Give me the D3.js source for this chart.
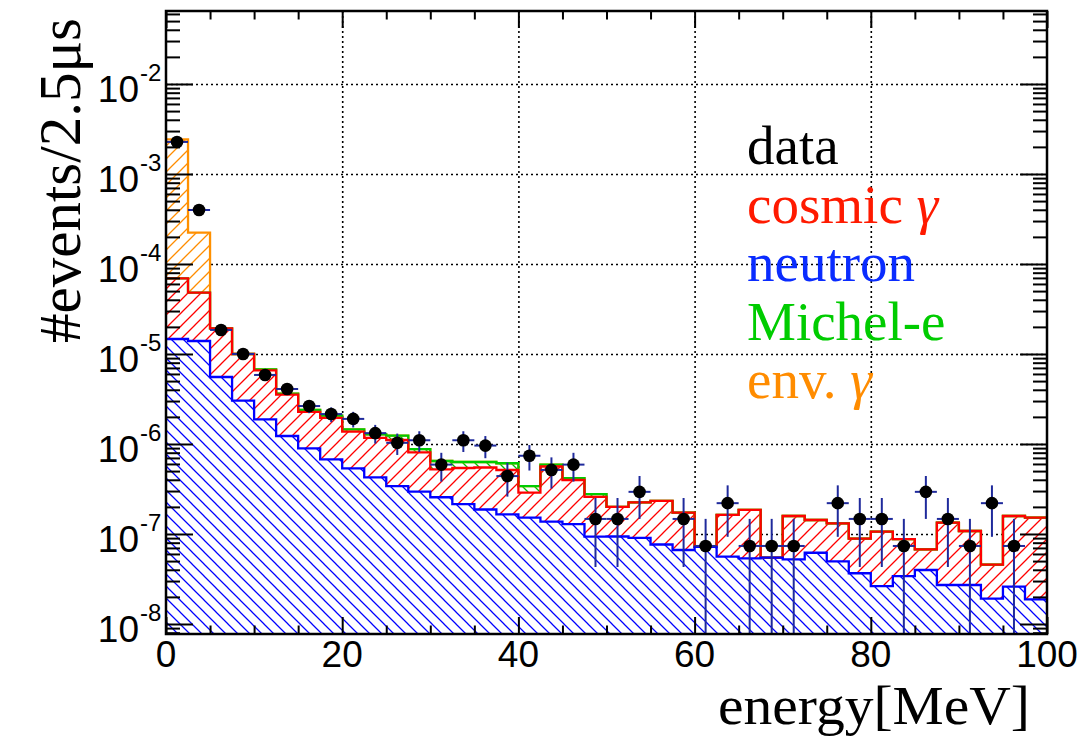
<!DOCTYPE html>
<html><head><meta charset="utf-8">
<script src="https://cdn.jsdelivr.net/npm/d3@7"></script>
<style>body{margin:0;background:#fff}svg{display:block}</style>
</head><body>
<svg id="c" width="1084" height="737"></svg>
<script>
// ---- data (events / 2.5 us per 2.5 MeV bin) ----
const binLow = [0,2.5,5,7.5,10,12.5,15,17.5,20,22.5,25,27.5,30,32.5,35,37.5,40,42.5,45,47.5,
                50,52.5,55,57.5,60,62.5,65,67.5,70,72.5,75,77.5,80,82.5,85,87.5,90,92.5,95,97.5];
const binWidth = 2.5;
const neutron = [1.468e-5,1.394e-5,5.55e-6,3.03e-6,1.88e-6,1.227e-6,8.95e-7,6.76e-7,5.37e-7,4.25e-7,
  3.41e-7,2.96e-7,2.56e-7,2.15e-7,1.87e-7,1.65e-7,1.52e-7,1.37e-7,1.29e-7,9.33e-8,
  9.38e-8,9.03e-8,7.64e-8,6.64e-8,7.18e-8,5.60e-8,5.35e-8,5.45e-8,5.21e-8,6.19e-8,
  4.97e-8,3.66e-8,2.64e-8,3.41e-8,3.98e-8,2.71e-8,2.71e-8,1.91e-8,2.60e-8,1.88e-8];
const cosmicGamma = [5.46e-5,3.41e-5,1.375e-5,6.97e-6,4.68e-6,2.30e-6,1.375e-6,1.274e-6,8.33e-7,7.42e-7,
  7.66e-7,5.09e-7,2.65e-7,3.26e-7,3.61e-7,3.49e-7,1.36e-7,4.25e-7,2.69e-7,1.647e-7,
  1.062e-7,1.337e-7,1.566e-7,1.066e-7,0,1.07e-7,1.315e-7,0,1.064e-7,8.11e-8,
  8.13e-8,5.21e-8,7.96e-8,5.38e-8,2.75e-8,1.069e-7,8.09e-8,2.65e-8,1.325e-7,1.332e-7];
const michelE = [0,0,0,0,2.0e-7,1.0e-7,1.2e-7,1.2e-7,8e-8,1.09e-7,
  1.33e-7,7.4e-8,1.26e-7,9.0e-8,8.3e-8,9.7e-8,5.3e-8,2.7e-8,1.8e-8,1.9e-8,
  0,0,0,0,0,0,0,0,0,0, 0,0,0,0,0,0,0,0,0,0];
const envGamma = [2.36e-3,1.75e-4,0,0,0,0,0,0,0,0, 0,0,0,0,0,0,0,0,0,0,
  0,0,0,0,0,0,0,0,0,0, 0,0,0,0,0,0,0,0,0,0];
const dataVal = [2.27e-3,3.98e-4,1.85e-5,1.0e-5,5.85e-6,4.08e-6,2.64e-6,2.15e-6,1.9e-6,1.32e-6,
  1.03e-6,1.10e-6,5.9e-7,1.10e-6,9.6e-7,4.4e-7,7.4e-7,5.15e-7,5.9e-7,1.47e-7,
  1.47e-7,2.94e-7,null,1.47e-7,7.36e-8,2.2e-7,7.36e-8,7.36e-8,7.36e-8,null,
  2.2e-7,1.47e-7,1.47e-7,7.36e-8,2.94e-7,1.47e-7,7.36e-8,2.2e-7,7.36e-8,null];
const dataErr = [1.29e-5,5.4e-6,1.17e-6,8.6e-7,6.6e-7,5.5e-7,4.4e-7,4.0e-7,3.75e-7,3.1e-7,
  2.75e-7,2.85e-7,2.08e-7,2.85e-7,2.65e-7,1.8e-7,2.33e-7,1.95e-7,2.08e-7,1.04e-7,
  1.04e-7,1.47e-7,null,1.04e-7,7.36e-8,1.27e-7,7.36e-8,7.36e-8,7.36e-8,null,
  1.27e-7,1.04e-7,1.04e-7,7.36e-8,1.47e-7,1.04e-7,7.36e-8,1.27e-7,7.36e-8,null];
const xMajor = [0,20,40,60,80,100];
const xMinor = [5,10,15,25,30,35,45,50,55,65,70,75,85,90,95];
const legendItems = [
  {label:"data", sym:"", color:"#000000"},
  {label:"cosmic ", sym:"γ", color:"#ff1a00"},
  {label:"neutron", sym:"", color:"#0a2cff"},
  {label:"Michel-e", sym:"", color:"#00cc00"},
  {label:"env. ", sym:"γ", color:"#ff8c00"}
];

// ---- scales ----
const L=166, R=1047, T=11, B=634;
const x = d3.scaleLinear().domain([0,100]).range([L,R]);
const yMin = 7.74e-9, yMax = 6.47e-2;
const y = d3.scaleLog().domain([yMin,yMax]).range([B,T]);
const yy = v => y(Math.max(v, yMin));

const svg = d3.select('#c');
const defs = svg.append('defs');
defs.append('clipPath').attr('id','clip').append('rect')
  .attr('x',L).attr('y',T).attr('width',R-L).attr('height',B-T);

function hatch(id,color,dir,s,w){
  const p=defs.append('pattern').attr('id',id).attr('patternUnits','userSpaceOnUse')
    .attr('width',s).attr('height',s);
  const d = dir==='/'
    ? `M0,${s}L${s},0M-1,1L1,-1M${s-1},${s+1}L${s+1},${s-1}`
    : `M0,0L${s},${s}M-1,${s-1}L1,${s+1}M${s-1},-1L${s+1},1`;
  p.append('path').attr('d',d).attr('stroke',color).attr('stroke-width',w).attr('fill','none');
}
hatch('hEnv','#ff8c00','/',13,1.3);
hatch('hMichel','#00c000','\\',12,1.3);
hatch('hCosmic','#ff0000','/',13,1.3);
hatch('hNeutron','#0000ff','\\',12,1.25);

const plot = svg.append('g').attr('clip-path','url(#clip)');

// ---- grid ----
const decades = y.ticks().filter(v => Math.abs(Math.log10(v)-Math.round(Math.log10(v)))<1e-9);
const minors = y.ticks().filter(v => !decades.includes(v));
const gridStyle = g => { g.select('.domain').remove();
  g.selectAll('line').attr('stroke','#000').attr('stroke-width',1.6).attr('stroke-dasharray','2,3');
  g.selectAll('text').remove(); };
plot.append('g').attr('transform',`translate(${L},0)`)
  .call(d3.axisRight(y).tickValues(decades).tickSize(R-L)).call(gridStyle);
plot.append('g').attr('transform',`translate(0,${T})`)
  .call(d3.axisBottom(x).tickValues([20,40,60,80]).tickSize(B-T)).call(gridStyle);

// ---- stacked histograms ----
const rows = binLow.map((e,i)=>({lo:e, neutron:neutron[i], cosmic:cosmicGamma[i], michel:michelE[i], env:envGamma[i]}));
const keys = ['neutron','cosmic','michel','env'];
const stacked = d3.stack().keys(keys)(rows);
const pts = s => s.flatMap(d => [[d.data.lo, d[0], d[1]], [d.data.lo+binWidth, d[0], d[1]]]);
const area = d3.area().x(p=>x(p[0])).y0(p=>yy(p[1])).y1(p=>yy(p[2]));
const baseArea = d3.area().x(p=>x(p[0])).y0(B+5).y1(p=>yy(p[2]));
const line = d3.line().x(p=>x(p[0])).y(p=>yy(p[2]));

const fills = {neutron:'url(#hNeutron)', cosmic:'url(#hCosmic)', michel:'url(#hMichel)', env:'url(#hEnv)'};
const strokes = {neutron:'#0000ff', cosmic:'#ff0000', michel:'#00cc00', env:'#ff9000'};

// white under the total so grid is hidden
plot.append('path').attr('d', baseArea(pts(stacked[3]))).attr('fill','#fff');
stacked.forEach(s => {
  plot.append('path').attr('d', area(pts(s))).attr('fill', fills[s.key]);
});
[...stacked].reverse().forEach(s => {
  plot.append('path').attr('d', line(pts(s))).attr('fill','none')
    .attr('stroke', strokes[s.key]).attr('stroke-width',2.3);
});

// ---- data points ----
const errColor = '#1f2a9c';
const dg = plot.append('g');
binLow.forEach((e,i)=>{
  const v = dataVal[i]; if (v==null) return;
  const er = dataErr[i];
  const cx = x(e+binWidth/2), cy = y(v);
  const hi = yy(v+er), lo = (v-er) > yMin ? y(v-er) : B+5;
  dg.append('line').attr('x1',cx).attr('x2',cx).attr('y1',hi).attr('y2',lo)
    .attr('stroke',errColor).attr('stroke-width',2);
  dg.append('line').attr('x1',x(e)).attr('x2',x(e+binWidth)).attr('y1',cy).attr('y2',cy)
    .attr('stroke',errColor).attr('stroke-width',2);
  dg.append('circle').attr('cx',cx).attr('cy',cy).attr('r',6.3).attr('fill','#000');
});

// ---- frame and ticks ----
const tickStyle = g => { g.select('.domain').remove(); g.selectAll('text').remove();
  g.selectAll('line').attr('stroke','#000').attr('stroke-width',2); };
svg.append('g').attr('transform',`translate(${L},0)`).call(d3.axisRight(y).tickValues(decades).tickSize(27)).call(tickStyle);
svg.append('g').attr('transform',`translate(${L},0)`).call(d3.axisRight(y).tickValues(minors).tickSize(14)).call(tickStyle);
svg.append('g').attr('transform',`translate(${R},0)`).call(d3.axisLeft(y).tickValues(decades).tickSize(27)).call(tickStyle);
svg.append('g').attr('transform',`translate(${R},0)`).call(d3.axisLeft(y).tickValues(minors).tickSize(14)).call(tickStyle);
svg.append('g').attr('transform',`translate(0,${B})`).call(d3.axisTop(x).tickValues(xMajor).tickSize(17)).call(tickStyle);
svg.append('g').attr('transform',`translate(0,${B})`).call(d3.axisTop(x).tickValues(xMinor).tickSize(8.5)).call(tickStyle);
svg.append('g').attr('transform',`translate(0,${T})`).call(d3.axisBottom(x).tickValues(xMajor).tickSize(17)).call(tickStyle);
svg.append('g').attr('transform',`translate(0,${T})`).call(d3.axisBottom(x).tickValues(xMinor).tickSize(8.5)).call(tickStyle);
svg.append('rect').attr('x',L).attr('y',T).attr('width',R-L).attr('height',B-T)
  .attr('fill','none').attr('stroke','#000').attr('stroke-width',2.5);

// ---- tick labels ----
const sans = '"Liberation Sans", Arial, sans-serif';
const serif = '"Liberation Serif", "Times New Roman", serif';
decades.forEach(v=>{
  const ty = y(v);
  svg.append('text').attr('x',139).attr('y',ty+18).attr('text-anchor','end')
    .attr('font-family',sans).attr('font-size',37).text('10');
  svg.append('text').attr('x',140).attr('y',ty-3).attr('text-anchor','start')
    .attr('font-family',sans).attr('font-size',24).text(String(Math.round(Math.log10(v))));
});
xMajor.forEach(v=>{
  svg.append('text').attr('x',x(v)).attr('y',667).attr('text-anchor','middle')
    .attr('font-family',sans).attr('font-size',37).text(String(v));
});

// ---- axis titles ----
svg.append('text').attr('x',1030).attr('y',724).attr('text-anchor','end')
  .attr('font-family',serif).attr('font-size',55)
  .attr('textLength',312).attr('lengthAdjust','spacingAndGlyphs').text('energy[MeV]');
svg.append('text').attr('transform','translate(80,18) rotate(-90)').attr('text-anchor','end')
  .attr('font-family',serif).attr('font-size',59).text('#events/2.5μs');

// ---- legend ----
const legY = [164,222.5,281,339.5,398];
legendItems.forEach((d,i)=>{
  const t = svg.append('text').attr('x',747).attr('y',legY[i])
    .attr('font-family',serif).attr('font-size',55).attr('fill',d.color);
  t.append('tspan').text(d.label);
  if (d.sym) t.append('tspan').attr('font-style','italic').text(d.sym);
});
</script>
</body></html>
